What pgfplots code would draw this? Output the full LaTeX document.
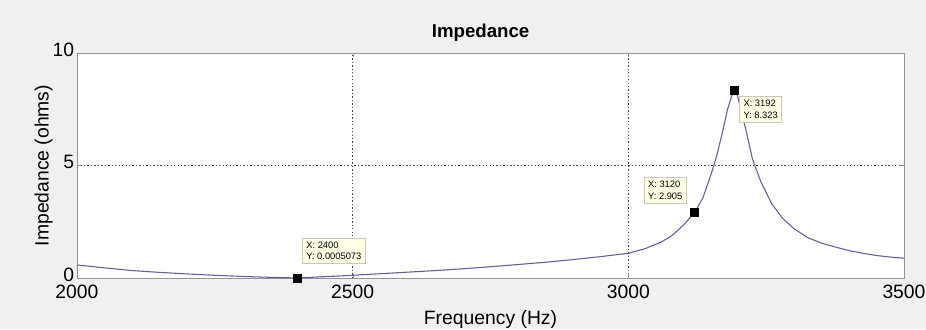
\documentclass[border=0pt]{standalone}
\usepackage{pgfplots}
\pgfplotsset{compat=1.18}
\usepackage{fontspec}
\setmainfont{Liberation Sans}
\definecolor{figbg}{HTML}{F0F0F0}
\definecolor{curve}{RGB}{95,95,155}
\definecolor{tipbg}{HTML}{FFFFE6}
\definecolor{tipbd}{HTML}{C8C8B4}
\begin{document}
\begin{tikzpicture}
\fill[figbg] (0,0) rectangle (694.5pt,246.75pt);
\begin{axis}[
  at={(57.75pt,38.25pt)}, anchor=south west,
  scale only axis, width=620.25pt, height=168.75pt,
  xmin=2000, xmax=3500, ymin=0, ymax=10,
  xtick={2000,2500,3000,3500}, ytick={0,5,10},
  axis background/.style={fill=white},
  axis line style={draw=gray!85},
  grid=major, major grid style={black!75, dash pattern=on 1pt off 1.6pt, line width=0.7pt},
  tick align=inside, major tick length=3pt,
  tick style={gray!85},
  tick label style={font=\fontsize{14.5}{16}\selectfont, inner sep=1pt},
  /pgf/number format/assume math mode=true,
  /pgf/number format/1000 sep={},
  xticklabel style={yshift=-4pt},
  yticklabel style={xshift=-1pt, yshift=2.5pt},
  xlabel={Frequency (Hz)}, ylabel={Impedance (ohms)},
  label style={font=\fontsize{14.5}{16}\selectfont},
  xlabel style={yshift=-4.5pt},
  ylabel style={yshift=-4.5pt},
  title={\textbf{Impedance}},
  title style={font=\fontsize{14}{16}\selectfont, at={(0.488,1)}, yshift=-1pt},
  clip=false,
]
\addplot[curve, line width=0.8pt] coordinates {
(2000,0.58) (2050,0.45) (2100,0.33) (2150,0.25) (2200,0.18) (2250,0.12) (2300,0.07) (2350,0.03) (2400,0.0005073)
(2450,0.06) (2500,0.12) (2550,0.19) (2600,0.26) (2650,0.33) (2700,0.41) (2750,0.5) (2800,0.6) (2850,0.7) (2900,0.82) (2950,0.95) (3000,1.1)
(3030,1.3) (3060,1.6) (3080,1.9) (3100,2.35) (3120,2.905) (3135,3.55) (3150,4.6) (3160,5.4) (3170,6.4) (3180,7.5) (3187,8.05) (3192,8.323)
(3198,8.1) (3205,7.4) (3215,6.4) (3225,5.3) (3240,4.3) (3260,3.3) (3280,2.65) (3300,2.2) (3325,1.8) (3350,1.55) (3375,1.38) (3400,1.22) (3425,1.1) (3450,1.0) (3475,0.93) (3500,0.88)
};
\addplot[only marks, mark=square*, mark size=3pt, black] coordinates {(2400,0.0005073) (3120,2.905) (3192,8.323)};
\tikzset{tip/.style={fill=tipbg, draw=tipbd, line width=0.6pt, font=\fontsize{7}{8.5}\selectfont, align=left, inner sep=3pt}}
\node[tip, anchor=north west] at (axis cs:2408,1.8) {X: 2400\\Y: 0.0005073};
\node[tip, anchor=north east] at (axis cs:3106,4.5) {X: 3120\\Y: 2.905};
\node[tip, anchor=north west] at (axis cs:3201,8.1) {X: 3192\\Y: 8.323};
\end{axis}
\pgfresetboundingbox
\path (0,0) rectangle (694.5pt,246.75pt);
\end{tikzpicture}
\end{document}
